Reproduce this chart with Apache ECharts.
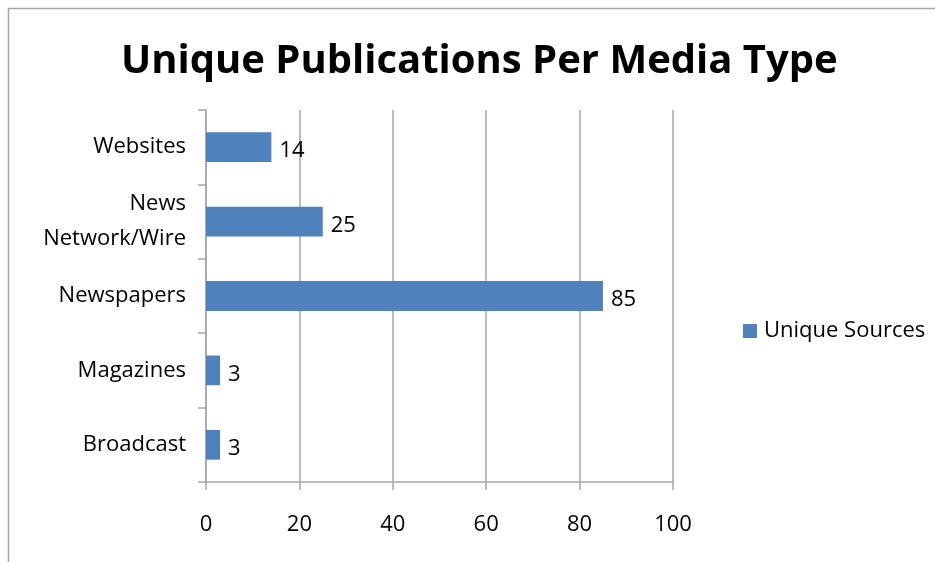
<!DOCTYPE html>
<html>
<head>
<meta charset="utf-8">
<script src="https://cdn.jsdelivr.net/npm/echarts@6/dist/echarts.min.js"></script>
<style>
  html, body { margin: 0; padding: 0; background: #fff; }
  #chart { width: 935px; height: 562px; }
</style>
</head>
<body>
<div id="chart"></div>
<script>
// Media types, listed bottom to top as they appear on the category axis
const categories = ['Broadcast', 'Magazines', 'Newspapers', 'News\nNetwork/Wire', 'Websites'];
const uniqueSources = [3, 3, 85, 25, 14];
const xTicks = { min: 0, max: 100, interval: 20 };

const FONT = '"Open Sans", "Liberation Sans", sans-serif';

const chart = echarts.init(document.getElementById('chart'), null, { renderer: 'canvas' });
chart.setOption({
  backgroundColor: '#ffffff',
  animation: false,
  graphic: [{
    type: 'rect',
    shape: { x: 8.5, y: 8.5, width: 1000, height: 1000 },
    style: { fill: 'none', stroke: '#a6a6a6', lineWidth: 1.5 },
    silent: true
  }],
  title: {
    text: 'Unique Publications Per Media Type',
    left: 116,
    top: 37,
    textStyle: { fontFamily: FONT, fontSize: 40, fontWeight: 'bold', color: '#000' }
  },
  legend: {
    data: ['Unique Sources'],
    orient: 'vertical',
    left: 738,
    top: 315,
    icon: 'rect',
    itemWidth: 14,
    itemHeight: 14,
    itemGap: 8,
    textStyle: { fontFamily: FONT, fontSize: 22, color: '#000', padding: [2, 0, 0, 2] }
  },
  grid: { left: 206, right: 262, top: 110, bottom: 80, containLabel: false },
  xAxis: {
    type: 'value',
    min: xTicks.min,
    max: xTicks.max,
    interval: xTicks.interval,
    axisLine: { show: true, lineStyle: { color: '#a6a6a6', width: 1.5 } },
    axisTick: { show: true, length: 8, lineStyle: { color: '#a6a6a6', width: 1.5 } },
    splitLine: { show: true, lineStyle: { color: '#a6a6a6', width: 1.5 } },
    axisLabel: { fontFamily: FONT, fontSize: 22, color: '#000', margin: 32 }
  },
  yAxis: {
    type: 'category',
    data: categories,
    axisLine: { show: true, lineStyle: { color: '#a6a6a6', width: 1.5 } },
    axisTick: { show: true, length: 8, lineStyle: { color: '#a6a6a6', width: 1.5 } },
    splitLine: { show: false },
    axisLabel: {
      fontFamily: FONT, fontSize: 22, color: '#000', margin: 20, lineHeight: 35
    }
  },
  series: [{
    name: 'Unique Sources',
    type: 'bar',
    data: uniqueSources,
    barWidth: '40%',
    itemStyle: { color: '#4f81bd' },
    label: {
      show: true,
      position: 'right',
      distance: 8,
      offset: [0, 4],
      fontFamily: FONT,
      fontSize: 22,
      color: '#000'
    }
  }]
});
</script>
</body>
</html>
